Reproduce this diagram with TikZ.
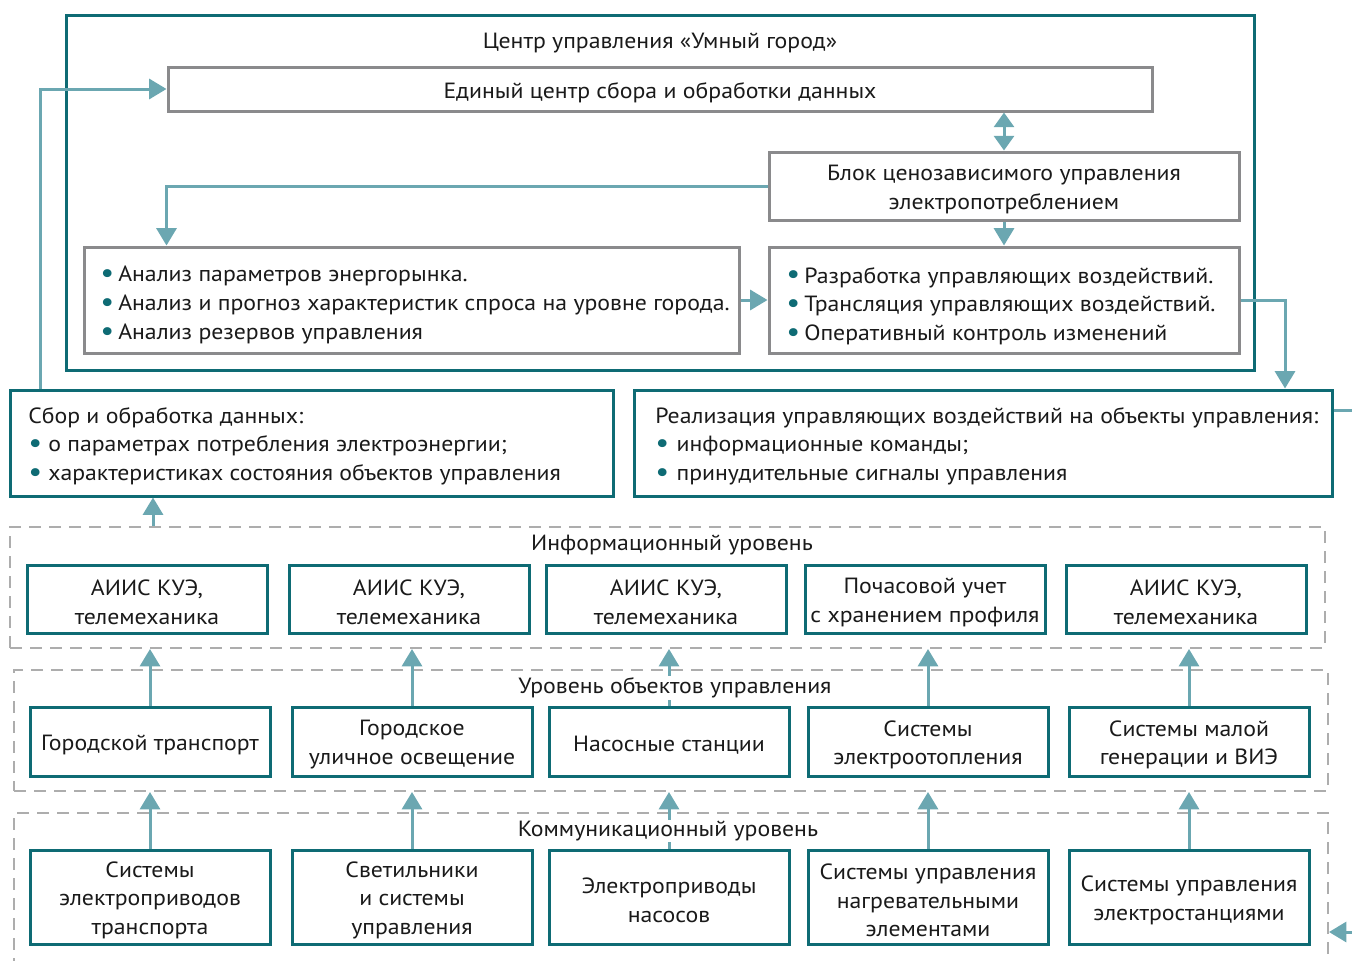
\documentclass[tikz,border=0pt]{standalone}
\usepackage{fontspec}
\setmainfont{PT Sans}[FakeStretch=1.08]
\usetikzlibrary{fit,arrows.meta,calc}
\definecolor{tdark}{HTML}{0E6B74}
\definecolor{tarrow}{HTML}{6BA7B1}
\definecolor{gbox}{HTML}{8A8A8C}
\definecolor{gdash}{HTML}{ADADAD}
\definecolor{txtc}{HTML}{1A1A1A}
\newcommand\bl[1]{\makebox[#1][l]{\color{tdark}\raisebox{-0.6pt}{\scalebox{1.3}{\textbullet}}}}
\begin{document}
\begin{tikzpicture}[x=0.75pt,y=-0.75pt,
  font=\fontsize{16.5}{21.5}\selectfont, text=txtc,
  tbox/.style={draw=tdark, line width=2.25pt, fill=white, inner sep=0pt},
  gbx/.style={draw=gbox, line width=2.25pt, fill=white, inner sep=0pt},
  ctext/.style={inner sep=0pt, align=center, yshift=-2.5pt},
  dframe/.style={draw=gdash, line width=1.5pt, dash pattern=on 9pt off 6pt, inner sep=0pt},
  con/.style={draw=tarrow, line width=2.25pt},
  arr/.style={con, -{Triangle[length=13pt,width=15pt]}},
  darr/.style={con, {Triangle[length=11pt,width=15pt]}-{Triangle[length=11pt,width=15pt]}},
  lbl/.style={inner sep=1pt, fill=white},
  txt/.style={anchor=west, inner sep=0pt, align=left},
]
\useasboundingbox (0,0) rectangle (1352,960);

% dashed level frames
\node[dframe, fit={(10,527)(1325,648)}] (infof) {};
\node[dframe, fit={(14,670)(1328,791)}] (objf) {};
\node[dframe, fit={(14,813)(1328,1000)}] (commf) {};

% centre frame
\node[draw=tdark, line width=2.25pt, inner sep=0pt, fit={(66,15)(1254,370)}] (centerf) {};
\node[inner sep=0pt] (title) at (660,43) {Центр управления «Умный город»};

\node[gbx, fit={(168,67)(1152,111)}] (edin) {};
\node[ctext] (edint) at (edin.center) {Единый центр сбора и обработки данных};
\node[gbx, fit={(769,152)(1239,220)}] (blok) {};
\node[ctext] (blokt) at (blok.center) {Блок ценозависимого управления\\электропотреблением};
\node[gbx, fit={(84,247)(739,353)}] (lbox) {};
\node[gbx, fit={(769,247)(1239,353)}] (rbox) {};
\node[txt] (ltxt) at (100,305) {\bl{13.5pt}Анализ параметров энергорынка.\\
\bl{13.5pt}Анализ и прогноз характеристик спроса на уровне города.\\
\bl{13.5pt}Анализ резервов управления};
\node[txt] (rtxt) at (786,306) {\bl{13.5pt}Разработка управляющих воздействий.\\
\bl{13.5pt}Трансляция управляющих воздействий.\\
\bl{13.5pt}Оперативный контроль изменений};

% middle boxes
\node[tbox, fit={(10,390)(613,496)}] (coll) {};
\node[tbox, fit={(634,390)(1332,496)}] (real) {};
\node[txt] (ctxt) at (28,446) {Сбор и обработка данных:\\
\bl{15pt}о параметрах потребления электроэнергии;\\
\bl{15pt}характеристиках состояния объектов управления};
\node[txt] (rltxt) at (655,446) {Реализация управляющих воздействий на объекты управления:\\
\bl{16pt}информационные команды;\\
\bl{16pt}принудительные сигналы управления};

% information level
\node[tbox, fit={(27,565)(267,633)}] (ib1) {};
\node[tbox, fit={(289,565)(529,633)}] (ib2) {};
\node[tbox, fit={(546,565)(786,633)}] (ib3) {};
\node[tbox, fit={(805,565)(1045,633)}] (ib4) {};
\node[tbox, fit={(1066,565)(1306,633)}] (ib5) {};
\node[ctext] (ib1t) at (ib1.center) {АИИС КУЭ,\\телемеханика};
\node[ctext] (ib2t) at (ib2.center) {АИИС КУЭ,\\телемеханика};
\node[ctext] (ib3t) at (ib3.center) {АИИС КУЭ,\\телемеханика};
\node[ctext] (ib4t) at (ib4.center) {Почасовой учет\\с хранением профиля};
\node[ctext] (ib5t) at (ib5.center) {АИИС КУЭ,\\телемеханика};

% object level
\node[tbox, fit={(30,707)(270,776)}] (ob1) {};
\node[tbox, fit={(292,707)(532,776)}] (ob2) {};
\node[tbox, fit={(549,707)(789,776)}] (ob3) {};
\node[tbox, fit={(808,707)(1048,776)}] (ob4) {};
\node[tbox, fit={(1069,707)(1309,776)}] (ob5) {};
\node[ctext] (ob1t) at (ob1.center) {Городской транспорт};
\node[ctext] (ob2t) at (ob2.center) {Городское\\уличное освещение};
\node[ctext] (ob3t) at (ob3.center) {Насосные станции};
\node[ctext] (ob4t) at (ob4.center) {Системы\\электроотопления};
\node[ctext] (ob5t) at (ob5.center) {Системы малой\\генерации и ВИЭ};

% communication level
\node[tbox, fit={(30,850)(270,944)}] (cb1) {};
\node[tbox, fit={(292,850)(532,944)}] (cb2) {};
\node[tbox, fit={(549,850)(789,944)}] (cb3) {};
\node[tbox, fit={(808,850)(1048,944)}] (cb4) {};
\node[tbox, fit={(1069,850)(1309,944)}] (cb5) {};
\node[ctext] (cb1t) at (cb1.center) {Системы\\электроприводов\\транспорта};
\node[ctext] (cb2t) at (cb2.center) {Светильники\\и системы\\управления};
\node[ctext] (cb3t) at (cb3.center) {Электроприводы\\насосов};
\node[ctext] (cb4t) at (cb4.center) {Системы управления\\нагревательными\\элементами};
\node[ctext] (cb5t) at (cb5.center) {Системы управления\\электростанциями};

% junction coordinates
\coordinate (lj) at (40,89);
\coordinate (rj) at (1285,300);
\coordinate (cj) at (153,500);
\coordinate (ro) at (1375,410);
\coordinate (ri) at (1375,932);

% connectors
\draw[darr] (edin.south -| blok.north) -- (blok.north);
\draw[arr] (blok.south) -- (rbox.north);
\draw[arr] (blok.west) -| (lbox.north -| edin.west);
\draw[arr] (lbox.east) -- (rbox.west);
\draw[arr] (rbox.east) -| (real.north -| rj);
\draw[arr] (coll.north -| lj) |- (edin.west);
\draw[arr] (infof.north -| cj) -- (coll.south -| cj);
\draw[con] (real.east |- ro) -- (ro) -- (ri);
\draw[arr] (ri) -- (commf.east |- ri);
\foreach \i in {1,...,5}{
  \draw[arr] (ob\i.north) -- (ob\i.north |- infof.south);
  \draw[arr] (cb\i.north) -- (cb\i.north |- objf.south);
}

% level labels
\node[lbl] (infol) at (672,545) {Информационный уровень};
\node[lbl] (objl) at (675,688) {Уровень объектов управления};
\node[lbl] (comml) at (668,831) {Коммуникационный уровень};
\end{tikzpicture}
\end{document}
